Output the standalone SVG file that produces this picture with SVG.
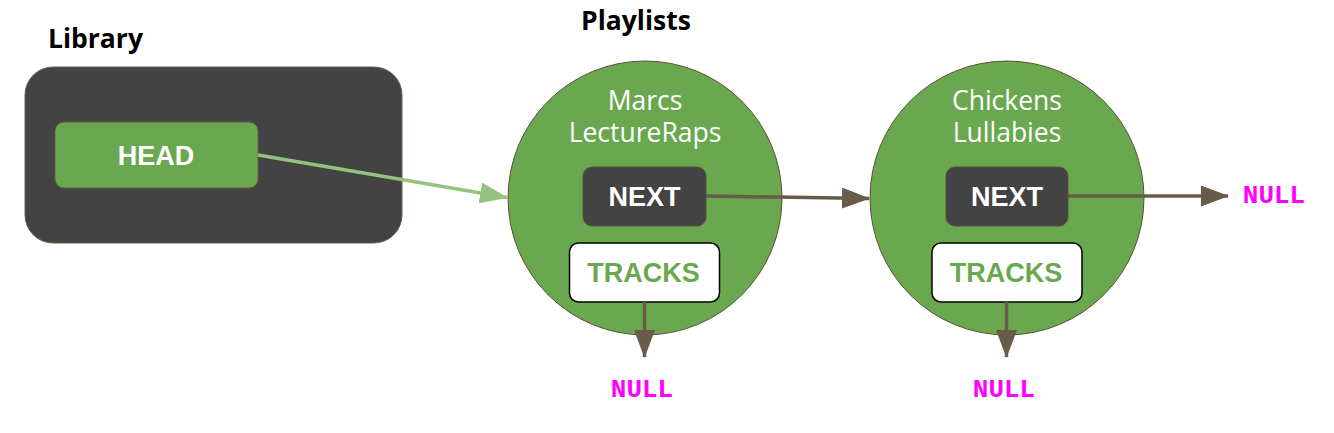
<svg xmlns="http://www.w3.org/2000/svg" width="1334" height="433" viewBox="0 0 1334 433">
<style>
.title{font-family:"Open Sans",sans-serif;font-weight:bold;font-size:26.5px;fill:#000}
.name{font-family:"Open Sans",sans-serif;font-size:26.5px;fill:#fff;text-anchor:middle}
.lbl{font-family:"Liberation Sans",Arial,sans-serif;font-weight:bold;font-size:27px;text-anchor:middle}
.null{font-family:"Liberation Mono","Courier New",monospace;font-weight:bold;font-size:26px;fill:#ff00ff}
.circ{fill:#6aa84f;stroke:#5b4f3b;stroke-width:1}
.next{fill:#434343;stroke:#5b4f3b;stroke-width:1}
.tracks{fill:#fff;stroke:#000;stroke-width:1.5}
.brown{stroke:#675c47;stroke-width:3.5;fill:none}
</style>
<defs>
<marker id="ab" markerUnits="userSpaceOnUse" markerWidth="28" markerHeight="21" refX="27" refY="10.5" orient="auto">
<path d="M0,0 L28,10.5 L0,21 Z" fill="#675c47"/>
</marker>
<marker id="ag" markerUnits="userSpaceOnUse" markerWidth="28" markerHeight="21" refX="27" refY="10.5" orient="auto">
<path d="M0,0 L28,10.5 L0,21 Z" fill="#93c47d"/>
</marker>
</defs>
<text class="title" x="48" y="48">Library</text>
<text class="title" x="581" y="30">Playlists</text>
<g id="library">
<rect x="25" y="67" width="377" height="176" rx="28" fill="#434343" stroke="#6b5e47" stroke-width="1"/>
</g>
<g id="head">
<rect x="55" y="122" width="203" height="66" rx="9" fill="#6aa84f" stroke="#6b5e47" stroke-width="1"/>
<text class="lbl" x="156" y="165" fill="#fff">HEAD</text>
</g>
<g id="playlist1">
<circle class="circ" cx="645" cy="198" r="137"/>
<text class="name" x="645" y="110">Marcs</text>
<text class="name" x="645" y="142">LectureRaps</text>
</g>
<g id="next1">
<rect class="next" x="583" y="167" width="123" height="59" rx="9"/>
<text class="lbl" x="644.5" y="206" fill="#fff">NEXT</text>
</g>
<g id="tracks1">
<rect class="tracks" x="569.5" y="243" width="150" height="59" rx="9"/>
<text class="lbl" x="643.5" y="282" fill="#6aa84f">TRACKS</text>
</g>
<g id="playlist2">
<circle class="circ" cx="1007" cy="198" r="137"/>
<text class="name" x="1007" y="110">Chickens</text>
<text class="name" x="1007" y="142">Lullabies</text>
</g>
<g id="next2">
<rect class="next" x="946" y="167" width="122" height="59" rx="9"/>
<text class="lbl" x="1007" y="206" fill="#fff">NEXT</text>
</g>
<g id="tracks2">
<rect class="tracks" x="932" y="243" width="150" height="59" rx="9"/>
<text class="lbl" x="1006" y="282" fill="#6aa84f">TRACKS</text>
</g>
<g id="null1"><text class="null" x="642" y="397" text-anchor="middle">NULL</text></g>
<g id="null2"><text class="null" x="1004" y="397" text-anchor="middle">NULL</text></g>
<g id="null3"><text class="null" x="1274" y="203" text-anchor="middle">NULL</text></g>
<g id="connectors">
<line x1="258" y1="155" x2="507" y2="197.5" stroke="#93c47d" stroke-width="3.5" marker-end="url(#ag)"/>
<line class="brown" x1="706" y1="196" x2="869" y2="198.5" marker-end="url(#ab)"/>
<line class="brown" x1="1068" y1="196" x2="1228" y2="196" marker-end="url(#ab)"/>
<line class="brown" x1="644.5" y1="302" x2="644.5" y2="357" marker-end="url(#ab)"/>
<line class="brown" x1="1006.5" y1="302" x2="1006.5" y2="357" marker-end="url(#ab)"/>
</g>
</svg>
